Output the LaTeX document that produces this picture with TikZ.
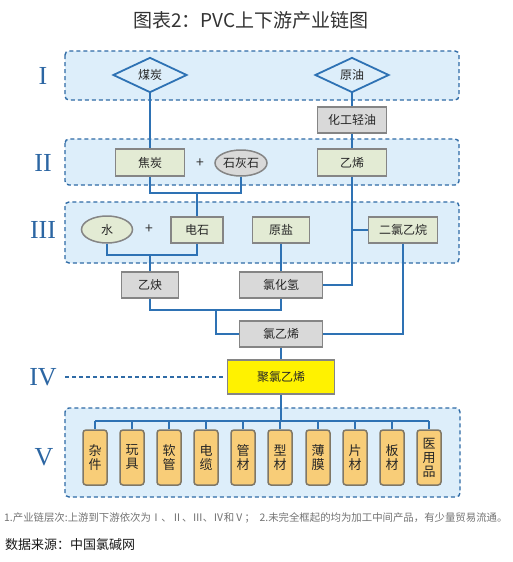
\documentclass[tikz,border=0pt]{standalone}
\usepackage{fontspec}
\setmainfont{Noto Sans CJK SC}
\newfontfamily\romanf{Liberation Serif}
\usetikzlibrary{shapes.geometric}
\definecolor{bandfill}{HTML}{DDEEFA}
\definecolor{bandline}{HTML}{2F6BA6}
\definecolor{linkc}{HTML}{2E72B4}
\definecolor{boxline}{HTML}{858585}
\definecolor{grayfill}{HTML}{D9D9D9}
\definecolor{greenfill}{HTML}{E3EBD4}
\definecolor{prodfill}{HTML}{F8CD78}
\definecolor{prodline}{HTML}{7F7766}
\definecolor{romanc}{HTML}{2C66A3}
\tikzset{
  band/.style={draw=bandline, fill=bandfill, dash pattern=on 4pt off 3pt, line width=1.4pt, rounded corners=4pt},
  link/.style={draw=linkc, line width=1.8pt},
  boxtext/.style={font=\fontsize{12}{14}\selectfont, text=black!85, inner sep=0pt},
  graybox/.style={boxtext, draw=boxline, fill=grayfill, line width=1.5pt, rectangle},
  greenbox/.style={boxtext, draw=boxline, fill=greenfill, line width=1.5pt, rectangle},
  greenell/.style={boxtext, draw=boxline, fill=greenfill, line width=1.5pt, ellipse},
  grayell/.style={boxtext, draw=boxline, fill=grayfill, line width=1.5pt, ellipse},
  dia/.style={boxtext, draw=linkc, fill=bandfill, line width=1.8pt, diamond, minimum width=74pt, minimum height=30pt},
  prod/.style={draw=prodline, fill=prodfill, line width=1.5pt, rounded corners=3pt, minimum width=24pt, minimum height=55pt, inner sep=0pt, align=center, font=\fontsize{13}{14}\selectfont, text=black!85},
  roman/.style={font=\romanf\fontsize{26}{26}\selectfont, text=romanc},
  plus/.style={font=\fontsize{14}{14}\selectfont, text=black!80}
}
\begin{document}
\begin{tikzpicture}[x=1pt,y=-1pt]
\useasboundingbox (0,0) rectangle (513,562);
\fill[white] (0,0) rectangle (513,562);
% title
\node[font=\fontsize{19}{21}\selectfont, text=black!80] (title) at (251,20) {图表2：PVC上下游产业链图};
% bands
\draw[band] (65,51) rectangle (459,100);
\draw[band] (65,139) rectangle (459,185);
\draw[band] (65,202) rectangle (459,263);
\draw[band] (65,408) rectangle (460,497);
% roman labels
\node[roman] (l1) at (43,76) {I};
\node[roman] (l2) at (43,163) {II};
\node[roman] (l3) at (43,230) {III};
\node[roman] (l4) at (43,377) {IV};
\node[roman] (l5) at (44,457) {V};
% nodes
\node[dia] (coal) at (150,75) {煤炭};
\node[dia] (oil) at (352,75) {原油};
\node[graybox, minimum width=69pt, minimum height=26pt] (naphtha) at (352,120) {化工轻油};
\node[greenbox, minimum width=69pt, minimum height=27pt] (coke) at (150,162.5) {焦炭};
\node[plus] (p1) at (200,163) {+};
\node[grayell, minimum width=52pt, minimum height=26pt] (lime) at (241,163) {石灰石};
\node[greenbox, minimum width=69pt, minimum height=27pt] (eth) at (352,162.5) {乙烯};
\node[greenell, minimum width=51pt, minimum height=27pt] (water) at (107,229.5) {水};
\node[plus] (p2) at (149,229.5) {+};
\node[greenbox, minimum width=52pt, minimum height=26pt] (carb) at (197,230) {电石};
\node[greenbox, minimum width=57pt, minimum height=26pt] (salt) at (281,230) {原盐};
\node[greenbox, minimum width=69pt, minimum height=26pt] (edc) at (403,230) {二氯乙烷};
\node[graybox, minimum width=57pt, minimum height=26pt] (acet) at (150,285) {乙炔};
\node[graybox, minimum width=83pt, minimum height=26pt] (hcl) at (281,285) {氯化氢};
\node[graybox, minimum width=83pt, minimum height=26pt] (vcm) at (281,334) {氯乙烯};
\node[boxtext, draw=boxline, fill=yellow, line width=1.5pt, minimum width=107pt, minimum height=34pt] (pvc) at (281,377) {聚氯乙烯};
% products
\foreach \i/\x/\t in {0/95/杂\\件,1/132/玩\\具,2/169/软\\管,3/206/电\\缆,4/243/管\\材,5/280/型\\材,6/318/薄\\膜,7/355/片\\材,8/392/板\\材,9/429/医\\用\\品}{
  \node[prod] (pr\i) at (\x,457.5) {\t};
}
% junction coordinates
\coordinate (j1) at (197,193);
\coordinate (j2) at (150,255);
\coordinate (j3) at (216,310);
\coordinate (bus) at (281,421);
\coordinate (ivend) at (223,377);
\coordinate (ivstart) at (65,377);
% connectors
\draw[link] (coal.south) -- (coke.north);
\draw[link] (oil.south) -- (naphtha.north);
\draw[link] (naphtha.south) -- (eth.north);
\draw[link] (coke.south) |- (j1);
\draw[link] (lime.south) |- (j1);
\draw[link] (j1) -- (carb.north);
\draw[link] (water.south) |- (j2);
\draw[link] (carb.south) |- (j2);
\draw[link] (j2) -- (acet.north);
\draw[link] (eth.south) |- (hcl.east);
\draw[link] (eth.south |- edc.west) -- (edc.west);
\draw[link] (salt.south) -- (hcl.north);
\draw[link] (edc.south) |- (vcm.east);
\draw[link] (acet.south) |- (j3);
\draw[link] (hcl.south) |- (j3);
\draw[link] (j3) |- (vcm.west);
\draw[link] (vcm.south) -- (pvc.north);
\draw[link] (pvc.south) -- (bus);
\draw[link] (pr0.north |- bus) -- (pr9.north |- bus);
\foreach \i in {0,...,9}{\draw[link] (pr\i.north |- bus) -- (pr\i.north);}
\draw[draw=bandline, line width=1.3pt, dash pattern=on 4pt off 3pt] (ivstart) -- (ivend);
% footnotes
\node[anchor=west, inner sep=0pt, font=\fontsize{10.4}{12}\selectfont, text=black!55] (fn) at (4,518) {1.产业链层次:上游到下游依次为Ⅰ、Ⅱ、Ⅲ、Ⅳ和Ⅴ；\ \ 2.未完全框起的均为加工中间产品，有少量贸易流通。};
\node[anchor=west, inner sep=0pt, font=\fontsize{13}{15}\selectfont, text=black!90] (src) at (5,545) {数据来源：中国氯碱网};
\end{tikzpicture}
\end{document}
